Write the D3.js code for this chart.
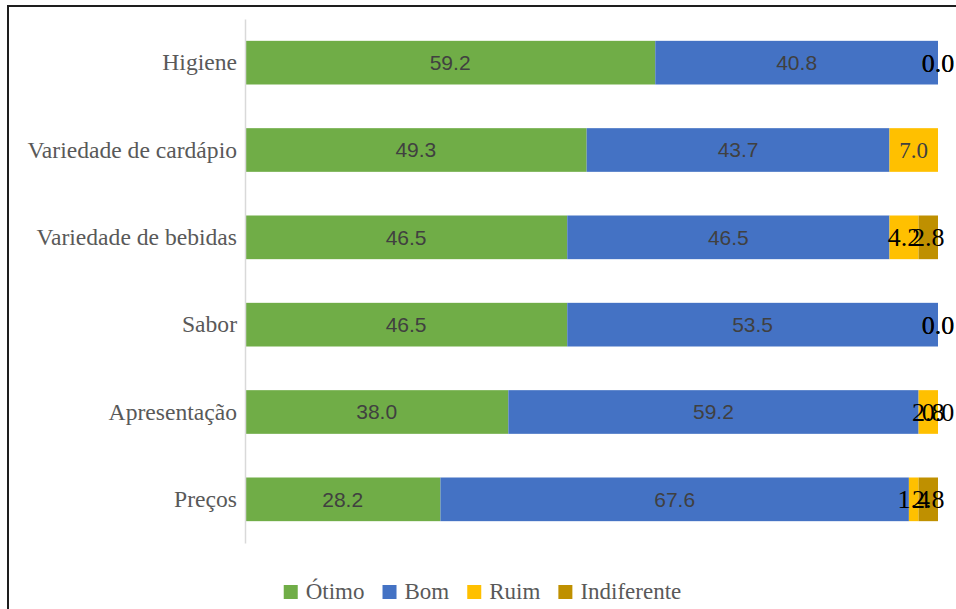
<!DOCTYPE html>
<html>
<head>
<meta charset="utf-8">
<script src="https://cdn.jsdelivr.net/npm/d3@7"></script>
<style>
  html, body { margin: 0; padding: 0; background: #fff; }
  svg { display: block; }
</style>
</head>
<body>
<svg id="chart" width="956" height="609"></svg>
<script>
// Avaliação dos itens (%), barras empilhadas
const categories = ["Higiene", "Variedade de cardápio", "Variedade de bebidas", "Sabor", "Apresentação", "Preços"];
const seriesNames = ["Ótimo", "Bom", "Ruim", "Indiferente"];
const otimo       = [59.2, 49.3, 46.5, 46.5, 38.0, 28.2];
const bom         = [40.8, 43.7, 46.5, 53.5, 59.2, 67.6];
const ruim        = [0.0, 7.0, 4.2, 0.0, 2.8, 1.4];
const indiferente = [0.0, null, 2.8, 0.0, 0.0, 2.8];
const seriesColors = ["#70AD47", "#4472C4", "#FFC000", "#BF9000"];
const xTicks = [0, 100];

const values = [otimo, bom, ruim, indiferente];

const svg = d3.select("#chart");
const W = 956, H = 609;

// moldura do gráfico
svg.append("rect")
  .attr("x", 8).attr("y", 6)
  .attr("width", W + 20).attr("height", H + 20)
  .attr("fill", "none")
  .attr("stroke", "#1e1e1e")
  .attr("stroke-width", 2);

const x = d3.scaleLinear().domain(d3.extent(xTicks)).range([245, 938]);
const y = d3.scaleBand().domain(categories).range([19, 543]).paddingInner(0.5).paddingOuter(0.25);

// linhas da tabela para o empilhamento
const rows = categories.map((c, i) => {
  const r = { categoria: c };
  seriesNames.forEach((s, k) => { r[s] = values[k][i]; });
  return r;
});
const stack = d3.stack().keys(seriesNames).value((d, key) => d[key] == null ? 0 : d[key]);
const stacked = stack(rows);

const gBars = svg.append("g");
stacked.forEach((layer, k) => {
  gBars.selectAll(null)
    .data(layer)
    .join("rect")
    .attr("x", d => x(d[0]))
    .attr("y", d => y(d.data.categoria))
    .attr("width", d => Math.max(0, x(d[1]) - x(d[0])))
    .attr("height", y.bandwidth())
    .attr("fill", seriesColors[k]);
});

// eixo vertical (categorias)
const yAxis = svg.append("g")
  .attr("transform", `translate(${x(0)},0)`)
  .call(d3.axisLeft(y).tickSize(0).tickPadding(8));
yAxis.select(".domain").attr("stroke", "#d9d9d9").attr("stroke-width", 1.5);
yAxis.selectAll("text")
  .attr("font-family", "'Liberation Serif', 'Times New Roman', serif")
  .attr("font-size", 23.6)
  .attr("fill", "#595959")
  .attr("dy", "0.33em");

// rótulos de dados
const gLabels = svg.append("g");
stacked.forEach((layer, k) => {
  layer.forEach(d => {
    const v = d.data[seriesNames[k]];
    if (v == null) return;
    const cx = (x(d[0]) + x(d[1])) / 2;
    const cy = y(d.data.categoria) + y.bandwidth() / 2;
    const t = gLabels.append("text")
      .attr("x", cx).attr("y", cy)
      .attr("text-anchor", "middle")
      .attr("dy", "0.35em")
      .text(d3.format(".1f")(v));
    if (k < 2) {
      t.attr("font-family", "'Liberation Sans', Arial, sans-serif")
        .attr("font-size", 21).attr("fill", "#404040");
    } else if (v >= 5) {
      t.attr("font-family", "'Liberation Serif', 'Times New Roman', serif")
        .attr("font-size", 23).attr("fill", "#404040");
    } else {
      t.attr("font-family", "'Liberation Serif', 'Times New Roman', serif")
        .attr("font-size", 26).attr("fill", "#000");
    }
  });
});

// legenda
const legend = svg.append("g");
const sq = 14, gapText = 8, gapItem = 18;
let cursor = 0;
seriesNames.forEach((name, k) => {
  const g = legend.append("g");
  g.append("rect").attr("x", 0).attr("y", -14).attr("width", sq).attr("height", sq).attr("fill", seriesColors[k]);
  const t = g.append("text")
    .attr("x", sq + gapText).attr("y", 0)
    .attr("font-family", "'Liberation Serif', 'Times New Roman', serif")
    .attr("font-size", 23).attr("fill", "#595959")
    .text(name);
  const w = sq + gapText + t.node().getComputedTextLength();
  g.attr("transform", `translate(${cursor},0)`);
  cursor += w + gapItem;
});
const total = cursor - gapItem;
legend.attr("transform", `translate(${482.5 - total / 2},599)`);
</script>
</body>
</html>
